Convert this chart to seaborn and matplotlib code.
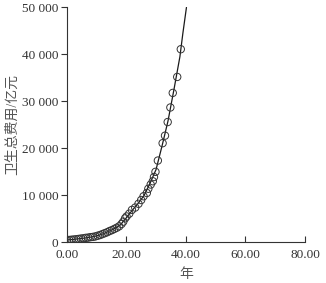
import matplotlib
matplotlib.use("Agg")
import matplotlib.pyplot as plt
import matplotlib.ticker as mticker
import seaborn as sns
import pandas as pd

# observed points (year index, expenditure in 亿元)
years = [0.0, 0.8, 1.6, 2.4, 3.2, 4.0, 4.8, 5.6, 6.4, 7.2, 8.0, 8.8, 9.6,
         10.4, 11.2, 12.0, 12.8, 13.6, 14.4, 15.2, 16.0, 16.8, 17.6,
         18.4, 19.0, 19.6, 20.1, 21.0, 21.9, 23.0, 24.1, 25.0, 25.8, 26.9,
         27.4, 28.2, 28.9, 29.3, 29.8, 30.6, 32.2, 33.0, 33.9, 34.8, 35.6,
         37.1, 38.3]
spending = [450, 500, 550, 600, 650, 720, 800, 850, 950, 1000, 1100, 1150,
            1250, 1400, 1550, 1750, 1950, 2150, 2400, 2600, 2850, 3100, 3400,
            3900, 4400, 5100, 5500, 6100, 6900, 7400, 8200, 9000, 9800, 10500,
            11400, 12300, 13000, 13900, 15000, 17400, 21100, 22700, 25600,
            28700, 31800, 35200, 41100]

# fitted curve
fit_x = [0, 2, 4, 6, 8, 10, 12, 14, 16, 18, 20, 22, 24, 26, 28, 30, 32, 34,
         36, 38, 39, 40.2]
fit_y = [500, 600, 750, 900, 1100, 1350, 1750, 2300, 2900, 3700, 5200, 6800,
         8300, 10000, 12600, 15500, 20500, 25800, 32500, 39500, 44500, 50000]

x_ticks = [0, 20, 40, 60, 80]
y_ticks = [0, 10000, 20000, 30000, 40000, 50000]

sns.set_style("ticks")
plt.rcParams["font.family"] = ["Liberation Serif", "Noto Sans CJK SC", "DejaVu Sans"]

points = pd.DataFrame({"year": years, "cost": spending})
curve = pd.DataFrame({"year": fit_x, "cost": fit_y})

fig = plt.figure(figsize=(3.26, 2.83), dpi=100)
ax = fig.add_axes([0.2046, 0.1438, 0.731, 0.830])

sns.lineplot(data=curve, x="year", y="cost", color="#1a1a1a", linewidth=0.9, ax=ax)
sns.scatterplot(data=points, x="year", y="cost", marker="o", s=28,
                facecolor="none", edgecolor="#333333", linewidth=0.7, ax=ax, zorder=3)

ax.set_xlim(0, 80)
ax.set_ylim(0, 50000)
ax.set_xticks(x_ticks)
ax.set_yticks(y_ticks)
ax.xaxis.set_major_formatter(mticker.FuncFormatter(lambda v, p: f"{v:.2f}"))
ax.yaxis.set_major_formatter(mticker.FuncFormatter(lambda v, p: f"{int(v):,}".replace(",", " ")))

ax.tick_params(axis="x", direction="in", length=4, width=0.8, labelsize=9.5, pad=5, colors="#333333")
ax.tick_params(axis="y", direction="out", length=4, width=0.8, labelsize=9.5, pad=2, colors="#333333")

ax.spines["top"].set_visible(False)
ax.spines["right"].set_visible(False)
for s in ["left", "bottom"]:
    ax.spines[s].set_linewidth(0.8)
    ax.spines[s].set_color("#333333")

ax.set_xlabel("年", fontsize=10, color="#555555", labelpad=5)
ax.set_ylabel("卫生总费用/亿元", fontsize=10, color="#555555", labelpad=2)

fig.savefig("out.png", dpi=100)
plt.close(fig)
